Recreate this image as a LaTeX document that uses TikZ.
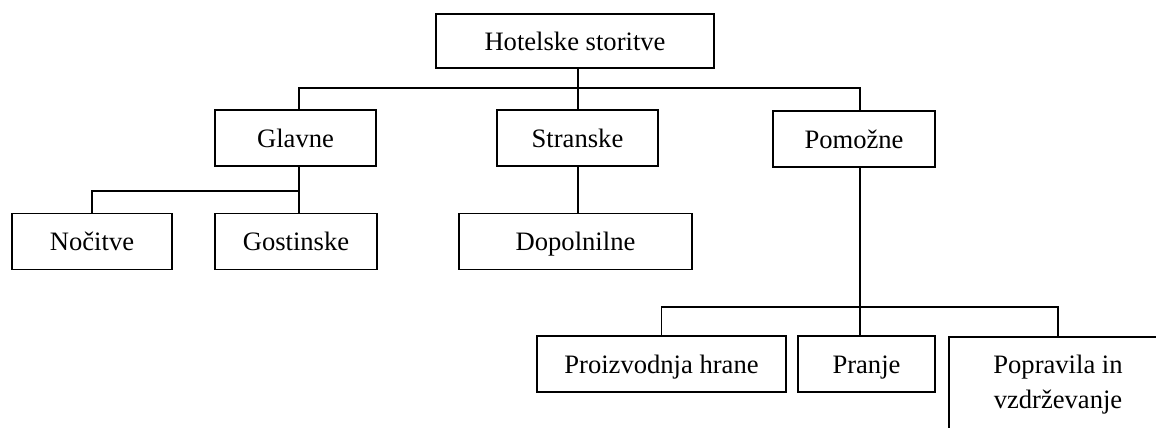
\documentclass[tikz,border=0pt]{standalone}
\usepackage{fontspec}
\setmainfont{Liberation Serif}
\usetikzlibrary{positioning}

\begin{document}
\begin{tikzpicture}[x=0.5pt, y=-0.5pt, line width=0.8pt,
    every node/.style={draw, rectangle, inner sep=0pt, minimum height=28pt,
      text height=9pt, text depth=0pt,
      font=\fontsize{13.3}{17.5}\selectfont}]
      \useasboundingbox (0,0) rectangle (1156,428);
      \clip (0,0) rectangle (1156,428);

      % Vrh
      \node (hotel) at (575,41) [minimum width=139pt, minimum height=27pt] {Hotelske storitve};

      % Drugi nivo
      \node (glavne) at (295.5,138) [minimum width=80.5pt] {Glavne};
      \node (stranske) at (577.5,138) [minimum width=80.5pt] {Stranske};
      \node (pomozne) at (854,139) [minimum width=81pt] {Pomožne};

      % Tretji nivo
      \node (nocitve) at (92,241.5) [minimum width=80pt] {Nočitve};
      \node (gostinske) at (296,241.5) [minimum width=81pt] {Gostinske};
      \node (dopolnilne) at (575.5,241.5) [minimum width=116.5pt] {Dopolnilne};

      % Cetrti nivo
      \node (proizvodnja) at (661.5,364) [minimum width=124.5pt] {Proizvodnja hrane};
      \node (pranje) at (866.5,364) [minimum width=68.5pt] {Pranje};
      \node (popravila) at (1058,385) [minimum width=109pt, minimum height=48pt,
        text height=, text depth=, align=center] {Popravila in\\vzdrževanje};

      % Povezave
      \coordinate (bus1) at (578,88);
      \coordinate (bus2) at (299,191);
      \coordinate (bus3) at (860,307);
      \draw (hotel.south -| bus1) -- (bus1);
      \draw (glavne.north -| bus2) |- (bus1) -| (pomozne.north -| bus3);
      \draw (bus1) -- (stranske.north -| bus1);
      \draw (glavne.south -| bus2) -- (bus2);
      \draw (nocitve.north) |- (bus2) -- (gostinske.north -| bus2);
      \draw (stranske.south -| bus1) -- (dopolnilne.north -| bus1);
      \draw (pomozne.south -| bus3) -- (pranje.north -| bus3);
      \draw (proizvodnja.north) |- (bus3) -| (popravila.north);
    \end{tikzpicture}
\end{document}
